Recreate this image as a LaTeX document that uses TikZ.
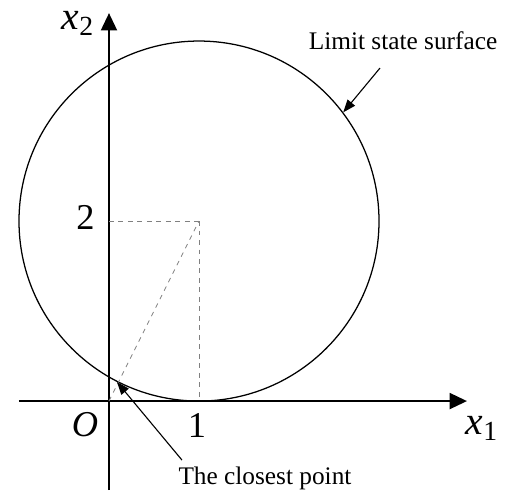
\documentclass[tikz,border=0pt]{standalone}
\usepackage{fontspec}
\setmainfont{Liberation Serif}
\usetikzlibrary{arrows.meta}

\begin{document}
\begin{tikzpicture}[x=2cm,y=2cm,
    axis/.style={line width=1.6pt, -{Triangle[length=11pt,width=10pt]}},
    guide/.style={dashed, gray, line width=0.5pt},
    pointer/.style={line width=0.7pt, -{Triangle[length=8pt,width=6pt]}},
    lbl/.style={font=\fontsize{23}{27}\selectfont},
    axlbl/.style={font=\fontsize{25}{29}\selectfont, inner sep=0pt},
    note/.style={font=\fontsize{16}{19}\selectfont}]
    \useasboundingbox (-1.211,-1.044) rectangle (4.522,4.456);
    % Nodes
    \coordinate (O) at (0,0);
    \coordinate (xs) at (-1,0);
    \coordinate (xe) at (3.978,0);
    \coordinate (ys) at (0,-0.989);
    \coordinate (ye) at (0,4.311);
    \node[circle, draw, line width=0.8pt, minimum size=8cm, inner sep=0pt] (lss) at (1,2) {};
    \coordinate (C) at (1,2);
    \node[axlbl] (x1) at (4.144,-0.3) {\itshape x\textsubscript{\upshape 1}};
    \node[axlbl] (x2) at (-0.344,4.2) {\itshape x\textsubscript{\upshape 2}};
    \node[lbl] (o) at (-0.267,-0.267) {\itshape O};
    \node[lbl] (one) at (0.978,-0.267) {1};
    \node[lbl] (two) at (-0.261,2.039) {2};
    \node[note] (surf) at (3.267,4.006) {Limit state surface};
    \node[note] (close) at (1.733,-0.856) {The closest point};
    \coordinate (surftail) at (3.011,3.7);
    \coordinate (closetail) at (0.811,-0.656);
    % Edges
    \draw[axis] (xs) -- (xe);
    \draw[axis] (ys) -- (ye);
    \draw[guide] (O |- C) -- (C);
    \draw[guide] (C) -- (C |- O);
    \draw[guide] (O) -- (C);
    \draw[pointer] (surftail) -- (lss.37);
    \draw[pointer] (closetail) -- (lss.243.43);
\end{tikzpicture}
\end{document}
